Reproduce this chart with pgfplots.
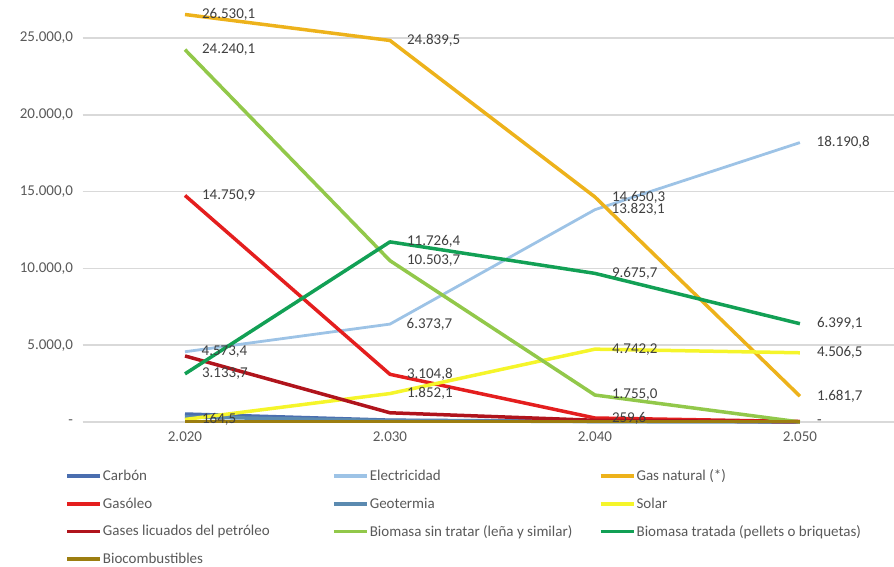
\documentclass[border=0pt]{standalone}
\usepackage{pgfplots}
\pgfplotsset{compat=1.18}
\usepackage{fontspec}
\setmainfont{Carlito}
\definecolor{cCarbon}{HTML}{4A6EAF}
\definecolor{cElec}{HTML}{9DC3E6}
\definecolor{cGas}{HTML}{EDB21B}
\definecolor{cGasoleo}{HTML}{E41E1E}
\definecolor{cGeo}{HTML}{5B8AB0}
\definecolor{cSolar}{HTML}{F5F52A}
\definecolor{cGLP}{HTML}{B0141C}
\definecolor{cBioS}{HTML}{92C84A}
\definecolor{cBioT}{HTML}{12A055}
\definecolor{cBioC}{HTML}{9C7E10}
\definecolor{gridgray}{HTML}{D9D9D9}
\definecolor{labgray}{HTML}{595959}
\definecolor{datagray}{HTML}{404040}
\newcommand{\lf}{\fontsize{15}{18}\selectfont}
\newcommand{\legtxt}[1]{\makebox[228pt][l]{#1}}
\begin{document}
\begin{tikzpicture}[x=1pt,y=1pt]
\useasboundingbox (0,0) rectangle (894,567);
\begin{axis}[
  at={(82.5pt,145pt)}, anchor=south west,
  scale only axis, width=811.5pt, height=420pt,
  xmin=-0.5, xmax=3.459, ymin=0, ymax=27344,
  clip=false,
  axis line style={draw=none}, major tick length=0pt,
  ymajorgrids, grid style={color=gridgray, line width=1.5pt},
  xtick={0,1,2,3}, xticklabels={2.020,2.030,2.040,2.050},
  ytick={0,5000,10000,15000,20000,25000},
  yticklabels={{-\hspace{8pt}},{5.000,0},{10.000,0},{15.000,0},{20.000,0},{25.000,0}},
  ticklabel style={font=\lf, text=labgray},
  yticklabel style={xshift=-6pt},
  xticklabel style={yshift=-6pt},
  point meta=explicit symbolic,
  nodes near coords,
  nodes near coords style={anchor=west, xshift=12pt, font=\lf, text=datagray},
  legend columns=3,
  legend cell align=left,
  legend style={at={(axis description cs:-0.02157,-0.0952)}, anchor=north west,
    draw=none, fill=none, inner sep=0pt, font=\lf, text=labgray,
    nodes={inner sep=1pt, minimum height=27.7pt},
    /tikz/every even column/.append style={column sep=0pt}},
  legend image code/.code={\draw[#1, line width=3.8pt] (0pt,0pt) -- (33pt,0pt);},
  every axis plot/.append style={line width=3.5pt, mark=none, line join=round},
]
\addplot[cCarbon] table[meta=l, row sep=\\] {x y l\\ 0 520 {}\\ 1 120 {}\\ 2 40 {}\\ 3 10 {}\\};
\addlegendentry{\legtxt{Carbón}}
\addplot[cElec, line width=2.8pt] table[meta=l, row sep=\\] {x y l\\ 0 4573.4 4.573,4\\ 1 6373.7 6.373,7\\ 2 13823.1 13.823,1\\ 3 18190.8 18.190,8\\};
\addlegendentry{\legtxt{Electricidad}}
\addplot[cGas] table[meta=l, row sep=\\] {x y l\\ 0 26530.1 26.530,1\\ 1 24839.5 24.839,5\\ 2 14650.3 14.650,3\\ 3 1681.7 1.681,7\\};
\addlegendentry{\legtxt{Gas natural (*)}}
\addplot[cGasoleo] table[meta=l, row sep=\\] {x y l\\ 0 14750.9 14.750,9\\ 1 3104.8 3.104,8\\ 2 259.6 259,6\\ 3 30 {}\\};
\addlegendentry{\legtxt{Gasóleo}}
\addplot[cGeo] table[meta=l, row sep=\\] {x y l\\ 0 330 {}\\ 1 90 {}\\ 2 30 {}\\ 3 10 {}\\};
\addlegendentry{\legtxt{Geotermia}}
\addplot[cSolar] table[meta=l, row sep=\\] {x y l\\ 0 164.5 164,5\\ 1 1852.1 1.852,1\\ 2 4742.2 4.742,2\\ 3 4506.5 4.506,5\\};
\addlegendentry{\legtxt{Solar}}
\addplot[cGLP] table[meta=l, row sep=\\] {x y l\\ 0 4300 {}\\ 1 600 {}\\ 2 110 {}\\ 3 20 {}\\};
\addlegendentry{\legtxt{Gases licuados del petróleo}}
\addplot[cBioS] table[meta=l, row sep=\\] {x y l\\ 0 24240.1 24.240,1\\ 1 10503.7 10.503,7\\ 2 1755.0 1.755,0\\ 3 0 -\\};
\addlegendentry{\legtxt{Biomasa sin tratar (leña y similar)}}
\addplot[cBioT] table[meta=l, row sep=\\] {x y l\\ 0 3133.7 3.133,7\\ 1 11726.4 11.726,4\\ 2 9675.7 9.675,7\\ 3 6399.1 6.399,1\\};
\addlegendentry{\legtxt{Biomasa tratada (pellets o briquetas)}}
\addplot[cBioC] table[meta=l, row sep=\\] {x y l\\ 0 20 {}\\ 1 20 {}\\ 2 20 {}\\ 3 20 {}\\};
\addlegendentry{\legtxt{Biocombustibles}}
\end{axis}
\end{tikzpicture}
\end{document}
